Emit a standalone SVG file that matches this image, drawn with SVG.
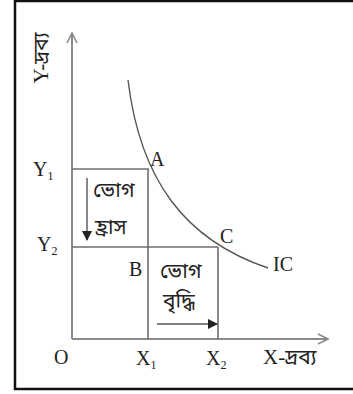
<svg xmlns="http://www.w3.org/2000/svg" width="353" height="394" viewBox="0 0 353 394">
<style>
.ax{stroke:#8a8a8a;stroke-width:2;fill:none}
.ln{stroke:#6e6e6e;stroke-width:1.6;fill:none}
.t{font-family:"Liberation Serif","Noto Serif Bengali","Noto Sans Bengali",serif;fill:#222;font-size:20px}
.s{font-size:12px}
.b{font-family:"Noto Sans Bengali","Noto Serif Bengali","Liberation Serif",sans-serif;fill:#222;font-size:21px}
.bl{font-family:"Liberation Serif","Noto Sans Bengali",serif;fill:#222;font-size:21px}
</style>
<defs>
<marker id="open" viewBox="0 0 12 12" refX="11" refY="6" markerWidth="12" markerHeight="12" markerUnits="userSpaceOnUse" orient="auto"><path d="M1,1 L11,6 L1,11" fill="none" stroke="#8a8a8a" stroke-width="1.6"/></marker>
<marker id="solid" viewBox="0 0 10 10" refX="9" refY="5" markerWidth="10" markerHeight="10" markerUnits="userSpaceOnUse" orient="auto"><path d="M0,0 L10,5 L0,10 Z" fill="#222"/></marker>
</defs>
<rect x="15" y="1" width="345" height="388" fill="#fff" stroke="#111" stroke-width="2.5"/>
<g id="connectors">
<line class="ax" x1="72" y1="339" x2="72" y2="33" marker-end="url(#open)"/>
<line class="ax" x1="72" y1="339" x2="328" y2="339" marker-end="url(#open)"/>
<line class="ln" x1="72" y1="169" x2="149" y2="169"/>
<line class="ln" x1="148" y1="169" x2="148" y2="339"/>
<line class="ln" x1="72" y1="247" x2="218" y2="247"/>
<line class="ln" x1="218" y1="247" x2="218" y2="339"/>
<path id="IC" d="M128,80 C140,180 185,240 268,268" stroke="#555" stroke-width="1.4" fill="none"/>
<line x1="87" y1="178" x2="87" y2="240" stroke="#555" stroke-width="1.4" marker-end="url(#solid)"/>
<line x1="157" y1="324" x2="217" y2="324" stroke="#555" stroke-width="1.4" marker-end="url(#solid)"/>
</g>
<g id="y-axis-label"><text class="bl" transform="translate(48,58) rotate(-90)" text-anchor="middle">Y-দ্রব্য</text></g>
<g id="x-axis-label"><text class="bl" x="263" y="364">X-দ্রব্য</text></g>
<g id="Y1"><text class="t" x="33" y="176">Y<tspan class="s" dy="4">1</tspan></text></g>
<g id="Y2"><text class="t" x="37" y="251">Y<tspan class="s" dy="4">2</tspan></text></g>
<g id="O"><text class="t" x="54" y="364">O</text></g>
<g id="X1"><text class="t" x="136" y="365">X<tspan class="s" dy="4">1</tspan></text></g>
<g id="X2"><text class="t" x="206" y="365">X<tspan class="s" dy="4">2</tspan></text></g>
<g id="A"><text class="t" x="150" y="166">A</text></g>
<g id="B"><text class="t" x="129" y="276">B</text></g>
<g id="C"><text class="t" x="220" y="243">C</text></g>
<g id="IC-label"><text class="t" x="273" y="271">IC</text></g>
<g id="decrease"><text class="b" x="93" y="197">ভোগ</text><text class="b" x="95" y="234">হ্রাস</text></g>
<g id="increase"><text class="b" x="160" y="278">ভোগ</text><text class="b" x="163" y="308">বৃদ্ধি</text></g>
</svg>
